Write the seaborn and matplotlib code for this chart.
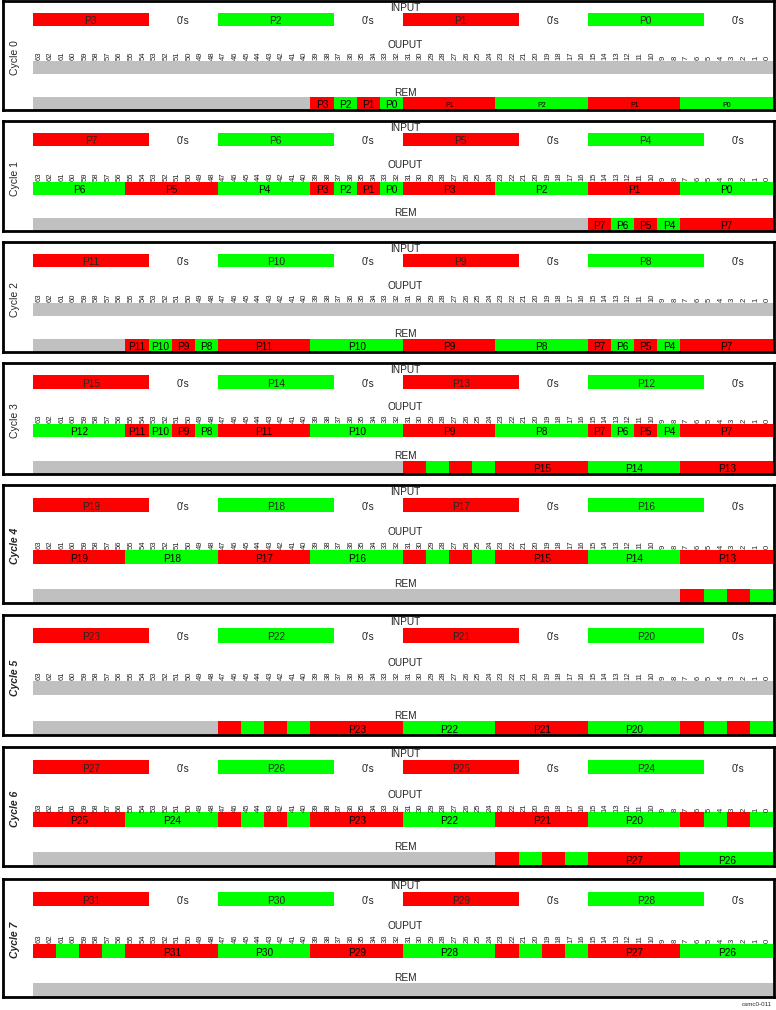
import matplotlib
matplotlib.use('Agg')
import matplotlib.pyplot as plt
import seaborn as sns

# estilo
sns.set_theme(style="white")
plt.rcParams['font.family'] = ['Liberation Sans', 'DejaVu Sans']

RED = '#FF0000'
GREEN = '#00FF00'
GRAY = '#C0C0C0'

# datos: palabra de 64 bits, 4 pixeles de 10 bits + 6 bits a cero
PIX_BITS = 10
ZERO_BITS = 6
n_bits = 64

cycles = ['Cycle 0', 'Cycle 1', 'Cycle 2', 'Cycle 3',
          'Cycle 4', 'Cycle 5', 'Cycle 6', 'Cycle 7']

input_pixels = [[3, 2, 1, 0], [7, 6, 5, 4], [11, 10, 9, 8], [15, 14, 13, 12],
                [19, 18, 17, 16], [23, 22, 21, 20], [27, 26, 25, 24], [31, 30, 29, 28]]

# segmentos (pixel, n bits, etiqueta) desde el bit 63 hacia el 0; None = gris
output_rows = [
    [(None, 64, '')],
    [(6, 8, 'P6'), (5, 8, 'P5'), (4, 8, 'P4'), (3, 2, 'P3'), (2, 2, 'P2'), (1, 2, 'P1'), (0, 2, 'P0'),
     (3, 8, 'P3'), (2, 8, 'P2'), (1, 8, 'P1'), (0, 8, 'P0')],
    [(None, 64, '')],
    [(12, 8, 'P12'), (11, 2, 'P11'), (10, 2, 'P10'), (9, 2, 'P9'), (8, 2, 'P8'),
     (11, 8, 'P11'), (10, 8, 'P10'), (9, 8, 'P9'), (8, 8, 'P8'),
     (7, 2, 'P7'), (6, 2, 'P6'), (5, 2, 'P5'), (4, 2, 'P4'), (7, 8, 'P7')],
    [(19, 8, 'P19'), (18, 8, 'P18'), (17, 8, 'P17'), (16, 8, 'P16'),
     (15, 2, ''), (14, 2, ''), (13, 2, ''), (12, 2, ''),
     (15, 8, 'P15'), (14, 8, 'P14'), (13, 8, 'P13')],
    [(None, 64, '')],
    [(25, 8, 'P25'), (24, 8, 'P24'), (23, 2, ''), (22, 2, ''), (21, 2, ''), (20, 2, ''),
     (23, 8, 'P23'), (22, 8, 'P22'), (21, 8, 'P21'), (20, 8, 'P20'),
     (19, 2, ''), (18, 2, ''), (17, 2, ''), (16, 2, '')],
    [(27, 2, ''), (26, 2, ''), (25, 2, ''), (24, 2, ''),
     (31, 8, 'P31'), (30, 8, 'P30'), (29, 8, 'P29'), (28, 8, 'P28'),
     (31, 2, ''), (30, 2, ''), (29, 2, ''), (28, 2, ''),
     (27, 8, 'P27'), (26, 8, 'P26')],
]

rem_rows = [
    [(None, 24, ''), (3, 2, 'P3'), (2, 2, 'P2'), (1, 2, 'P1'), (0, 2, 'P0'),
     (3, 8, 'P1'), (2, 8, 'P2'), (1, 8, 'P1'), (0, 8, 'P0')],
    [(None, 48, ''), (7, 2, 'P7'), (6, 2, 'P6'), (5, 2, 'P5'), (4, 2, 'P4'), (7, 8, 'P7')],
    [(None, 8, ''), (11, 2, 'P11'), (10, 2, 'P10'), (9, 2, 'P9'), (8, 2, 'P8'),
     (11, 8, 'P11'), (10, 8, 'P10'), (9, 8, 'P9'), (8, 8, 'P8'),
     (7, 2, 'P7'), (6, 2, 'P6'), (5, 2, 'P5'), (4, 2, 'P4'), (7, 8, 'P7')],
    [(None, 32, ''), (15, 2, ''), (14, 2, ''), (13, 2, ''), (12, 2, ''),
     (15, 8, 'P15'), (14, 8, 'P14'), (13, 8, 'P13')],
    [(None, 56, ''), (19, 2, ''), (18, 2, ''), (17, 2, ''), (16, 2, '')],
    [(None, 16, ''), (23, 2, ''), (22, 2, ''), (21, 2, ''), (20, 2, ''),
     (23, 8, 'P23'), (22, 8, 'P22'), (21, 8, 'P21'), (20, 8, 'P20'),
     (19, 2, ''), (18, 2, ''), (17, 2, ''), (16, 2, '')],
    [(None, 40, ''), (27, 2, ''), (26, 2, ''), (25, 2, ''), (24, 2, ''),
     (27, 8, 'P27'), (26, 8, 'P26')],
    [(None, 64, '')],
]

# posicion de cada panel en pixeles (arriba, alto)
panel_top = [1, 121, 242, 363, 485, 615, 747, 879]
panel_h = [109, 110, 110, 111, 118, 120, 119, 118]

W, H = 776, 1010
fig = plt.figure(figsize=(W / 100, H / 100), dpi=100)

px_per_bit = 740 / 64.0
x0_px = 33
xlim = ((3 - x0_px) / px_per_bit, (774 - x0_px) / px_per_bit)

Y_IN, Y_OUT, Y_REM = 0.17, 0.61, 0.94
BAR_H = 0.12


def color_of(p):
    if p is None:
        return GRAY
    return RED if p % 2 else GREEN


def draw_row(ax, segs, y, small=False):
    start = 0
    for p, nb, lab in segs:
        ax.barh(y, nb, left=start, height=BAR_H, color=color_of(p), linewidth=0, align='center')
        if lab:
            ax.text(start + nb / 2, y + 0.015, lab, ha='center', va='center',
                    fontsize=5 if (small and nb == 8) else 7.3, color='black')
        start += nb


for i in range(8):
    top = panel_top[i]
    h = panel_h[i]
    ax = fig.add_axes([3 / W, 1 - (top + h) / H, 771 / W, h / H])
    ax.set_xlim(*xlim)
    ax.set_ylim(1.0, 0.0)
    ax.set_xticks([])
    ax.set_yticks([])
    for s in ax.spines.values():
        s.set_visible(True)
        s.set_color('black')
        s.set_linewidth(2)

    # fila INPUT
    start = 0
    for p in input_pixels[i]:
        ax.barh(Y_IN, PIX_BITS, left=start, height=BAR_H, color=color_of(p), linewidth=0)
        ax.text(start + PIX_BITS / 2, Y_IN + 0.015, f'P{p}', ha='center', va='center', fontsize=7.3)
        start += PIX_BITS
        ax.text(start + ZERO_BITS / 2, Y_IN + 0.015, "0's", ha='center', va='center', fontsize=7.3)
        start += ZERO_BITS

    draw_row(ax, output_rows[i], Y_OUT)
    draw_row(ax, rem_rows[i], Y_REM, small=(i == 0))

    ax.text(32.2, 0.06, 'INPUT', ha='center', va='center', fontsize=7.3)
    ax.text(32.2, 0.40, 'OUPUT', ha='center', va='center', fontsize=7.3)
    ax.text(32.2, 0.84, 'REM', ha='center', va='center', fontsize=7.3)

    # numeros de bit
    for b in range(n_bits):
        ax.text(n_bits - 1 - b + 0.5, 0.545, str(b), rotation=90, ha='center', va='bottom',
                fontsize=5.5)

    if i < 4:
        ax.text(-1.6, 0.52, cycles[i], rotation=90, ha='center', va='center', fontsize=7.5)
    else:
        ax.text(-1.6, 0.52, cycles[i], rotation=90, ha='center', va='center', fontsize=7.5,
                fontweight='bold', fontstyle='italic')

fig.text(757 / W, 1 - 1005 / H, 'csmc0-011', ha='center', va='center', fontsize=4.5)

plt.savefig('out.png', dpi=100)
